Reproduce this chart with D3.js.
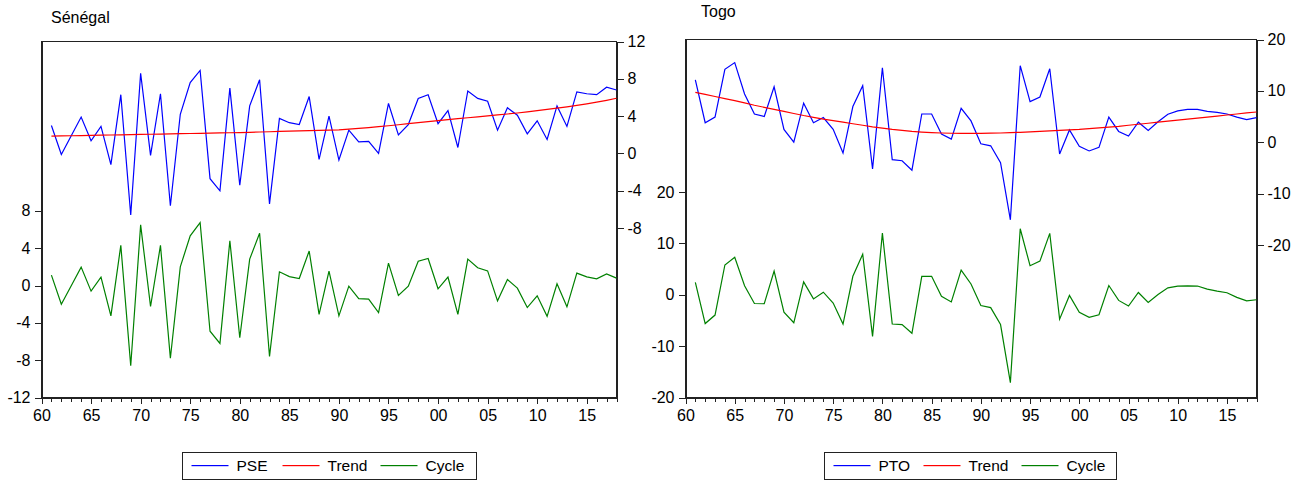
<!DOCTYPE html>
<html>
<head>
<meta charset="utf-8">
<script src="https://cdn.jsdelivr.net/npm/d3@7"></script>
<style>
  body { margin: 0; background: #fff; }
  svg { font-family: "Liberation Sans", Arial, sans-serif; }
  .axis text { font-size: 16px; fill: #000; font-family: "Liberation Sans", Arial, sans-serif; }
  .axis path, .axis line { stroke: #222; shape-rendering: crispEdges; }
</style>
</head>
<body>
<svg id="chart" width="1308" height="484"></svg>
<script>
const years = d3.range(1961, 2019);

// Sénégal
const pse = [3.0, -0.1, 1.9, 3.9, 1.36, 2.9, -1.2, 6.3, -6.6, 8.6,
  -0.2, 6.4, -5.6, 4.2, 7.6, 8.9, -2.7, -4.0, 7.0, -3.4,
  5.1, 7.9, -5.4, 3.75, 3.3, 3.1, 6.1, -0.64, 4.0, -0.7,
  2.5, 1.25, 1.3, 0.0, 5.36, 2.0, 3.1, 5.9, 6.3, 3.2,
  4.6, 0.64, 6.7, 5.9, 5.6, 2.5, 4.9, 4.1, 2.1, 3.5,
  1.5, 5.1, 2.9, 6.6, 6.4, 6.3, 7.1, 6.8];
const pseTrend = [1.86, 1.88, 1.9, 1.92, 1.94, 1.96, 1.98, 2.0, 2.02, 2.04,
  2.06, 2.08, 2.1, 2.12, 2.14, 2.16, 2.18, 2.2, 2.22, 2.24,
  2.27, 2.3, 2.33, 2.36, 2.39, 2.42, 2.45, 2.48, 2.5, 2.53,
  2.6, 2.68, 2.77, 2.87, 2.97, 3.08, 3.19, 3.3, 3.42, 3.53,
  3.63, 3.73, 3.83, 3.93, 4.03, 4.13, 4.23, 4.34, 4.46, 4.59,
  4.72, 4.86, 5.0, 5.15, 5.32, 5.5, 5.7, 5.92];
const pseCycle = [1.11, -2.0, -0.03, 1.97, -0.6, 0.9, -3.25, 4.3, -8.6, 6.5,
  -2.25, 4.3, -7.8, 2.0, 5.33, 6.75, -4.9, -6.2, 4.8, -5.6,
  2.83, 5.6, -7.6, 1.47, 0.96, 0.75, 3.7, -3.1, 1.55, -3.25,
  -0.07, -1.4, -1.45, -2.9, 2.4, -1.07, -0.07, 2.6, 2.9, -0.35,
  0.9, -3.1, 2.83, 1.9, 1.57, -1.64, 0.64, -0.28, -2.36, -1.1,
  -3.3, 0.18, -2.28, 1.33, 0.93, 0.72, 1.25, 0.79];

// Togo
const pto = [12.15, 3.8, 4.9, 14.2, 15.5, 9.4, 5.5, 5.0, 10.8, 2.5,
  0.0, 7.6, 3.8, 4.8, 2.5, -2.1, 6.95, 11.0, -5.2, 14.5,
  -3.4, -3.6, -5.45, 5.5, 5.5, 1.6, 0.6, 6.6, 4.15, -0.3,
  -0.7, -4.0, -15.1, 14.9, 7.9, 8.8, 14.3, -2.3, 2.4, -0.8,
  -1.7, -1.0, 4.9, 2.1, 1.2, 3.9, 2.3, 4.0, 5.45, 6.1,
  6.4, 6.4, 6.0, 5.8, 5.5, 4.9, 4.4, 4.8];
const ptoTrend = [9.7, 9.3, 8.9, 8.5, 8.1, 7.65, 7.2, 6.8, 6.4, 6.0,
  5.6, 5.2, 4.85, 4.5, 4.2, 3.9, 3.6, 3.3, 3.0, 2.75,
  2.5, 2.3, 2.1, 1.97, 1.87, 1.8, 1.75, 1.72, 1.72, 1.73,
  1.76, 1.8, 1.86, 1.93, 2.0, 2.1, 2.2, 2.3, 2.4, 2.5,
  2.65, 2.8, 2.95, 3.1, 3.3, 3.5, 3.7, 3.9, 4.1, 4.3,
  4.5, 4.7, 4.9, 5.1, 5.3, 5.5, 5.7, 5.88];
const ptoCycle = [2.4, -5.6, -3.95, 5.8, 7.3, 1.75, -1.7, -1.75, 4.6, -3.4,
  -5.45, 2.5, -0.8, 0.5, -1.6, -5.7, 3.6, 7.9, -8.1, 12.0,
  -5.7, -5.8, -7.5, 3.6, 3.6, -0.3, -1.4, 4.8, 2.1, -2.1,
  -2.5, -5.8, -17.1, 12.85, 5.65, 6.55, 11.95, -4.75, -0.13, -3.4,
  -4.4, -3.9, 1.8, -1.1, -2.2, 0.45, -1.5, 0.06, 1.36, 1.7,
  1.75, 1.7, 1.1, 0.7, 0.4, -0.5, -1.2, -0.97];

const senLeftTicks = [-12, -8, -4, 0, 4, 8];
const senRightTicks = [-8, -4, 0, 4, 8, 12];
const togoLeftTicks = [-20, -10, 0, 10, 20];
const togoRightTicks = [-20, -10, 0, 10, 20];

const colors = { series: "#0000ff", trend: "#ff0000", cycle: "#008000" };

const svg = d3.select("#chart");

function drawPanel(p) {
    const g = svg.append("g");
    const x = d3.scaleLinear().domain([1960, 2018]).range([p.left, p.right]);
    const yL = d3.scaleLinear().domain(p.leftDomain).range([p.bottom, p.top]);
    const yR = d3.scaleLinear().domain(p.rightDomain).range([p.bottom, p.top]);
    const fmt = d => String(d);   // plain hyphen, like the original

    g.append("text")
        .attr("x", p.titleX).attr("y", p.titleY)
        .style("font-size", "16px")
        .text(p.title);

    // frame
    g.append("rect")
        .attr("x", p.left).attr("y", p.top)
        .attr("width", p.right - p.left).attr("height", p.bottom - p.top)
        .attr("fill", "none").attr("stroke", "#222")
        .attr("shape-rendering", "crispEdges");

    g.append("g").attr("class", "axis")
        .attr("transform", `translate(${p.left},0)`)
        .call(d3.axisLeft(yL).tickValues(p.leftTicks).tickFormat(fmt)
            .tickSize(7).tickSizeOuter(0).tickPadding(4));

    g.append("g").attr("class", "axis")
        .attr("transform", `translate(${p.right},0)`)
        .call(d3.axisRight(yR).tickValues(p.rightTicks).tickFormat(fmt)
            .tickSize(7).tickSizeOuter(0).tickPadding(4));

    const xAxis = g.append("g").attr("class", "axis")
        .attr("transform", `translate(0,${p.bottom})`)
        .call(d3.axisBottom(x).tickValues(d3.range(1960, 2019)).tickSize(4).tickSizeOuter(0)
            .tickFormat(d => d % 5 === 0 ? String(d % 100).padStart(2, "0") : ""));
    xAxis.selectAll(".tick line").attr("y2", d => d % 5 === 0 ? 6 : 4);
    xAxis.selectAll(".tick text").attr("y", 12);

    const line = y => d3.line().x((d, i) => x(years[i])).y(d => y(d));

    [[p.series, yR, colors.series], [p.trend, yR, colors.trend], [p.cycle, yL, colors.cycle]]
        .forEach(([vals, y, c]) => {
            g.append("path")
                .datum(vals)
                .attr("fill", "none")
                .style("stroke", c)
                .attr("stroke-width", 1.2)
                .attr("d", line(y));
        });

    // legend
    const lg = g.append("g");
    lg.append("rect")
        .attr("x", p.legendX).attr("y", 452.5)
        .attr("width", p.legendW).attr("height", 27)
        .attr("fill", "none").attr("stroke", "#222");
    const items = [[p.name, colors.series], ["Trend", colors.trend], ["Cycle", colors.cycle]];
    items.forEach(([label, c], i) => {
        const lx = p.legendX + 9 + p.legendStep[i];
        lg.append("rect")
            .attr("x", lx).attr("y", 465)
            .attr("width", 37).attr("height", 1.2)
            .style("fill", c);
        lg.append("text")
            .attr("x", lx + 45).attr("y", 471)
            .style("font-size", "15.5px")
            .text(label);
    });
}

drawPanel({
    title: "Sénégal", titleX: 51, titleY: 23, name: "PSE",
    left: 41.5, right: 616.5, top: 41.5, bottom: 397.5,
    leftDomain: [-12, 26.15], rightDomain: [-26.15, 12],
    leftTicks: senLeftTicks, rightTicks: senRightTicks,
    series: pse, trend: pseTrend, cycle: pseCycle,
    legendX: 182.5, legendW: 294, legendStep: [0, 91, 189]
});

drawPanel({
    title: "Togo", titleX: 701, titleY: 17, name: "PTO",
    left: 685.5, right: 1256.5, top: 39.5, bottom: 397.5,
    leftDomain: [-20, 49.7], rightDomain: [-49.7, 20],
    leftTicks: togoLeftTicks, rightTicks: togoRightTicks,
    series: pto, trend: ptoTrend, cycle: ptoCycle,
    legendX: 824.5, legendW: 292, legendStep: [0, 90, 188]
});
</script>
</body>
</html>
